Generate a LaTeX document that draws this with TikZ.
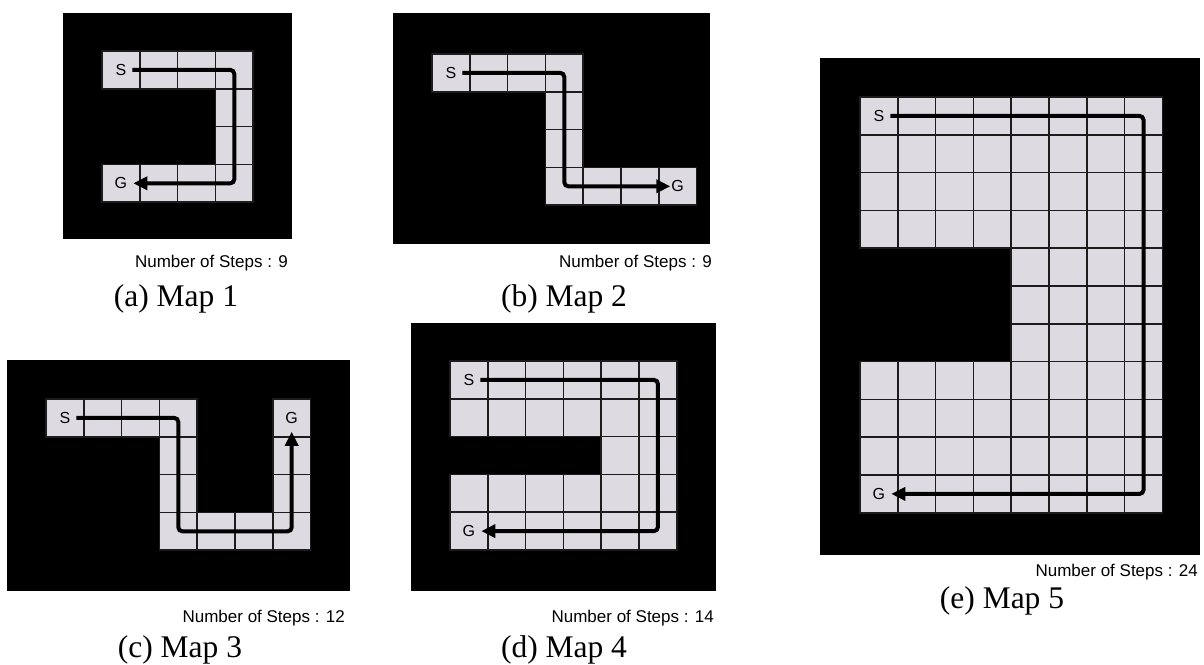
\documentclass[tikz,border=0pt]{standalone}
\usepackage{fontspec}
\setmainfont{Liberation Serif}
\setsansfont{Liberation Sans}
\usetikzlibrary{arrows.meta}
\definecolor{freecell}{RGB}{221,219,225}
\definecolor{gridline}{RGB}{28,28,28}
\newcommand{\cellsz}{37.8}

\begin{document}
\begin{tikzpicture}[x=1pt, y=-1pt,
  every node/.style={inner sep=0pt},
  wall/.style={fill=black},
  cell/.style={fill=freecell, draw=gridline, line width=1.6pt},
  endlbl/.style={font=\sffamily\fontsize{16}{16}\selectfont},
  route/.style={line width=4pt, rounded corners=4pt,
                -{Triangle[length=14pt, width=13pt]}},
  steps/.style={font=\sffamily\fontsize{17}{19}\selectfont, anchor=east},
  caption/.style={font=\rmfamily\fontsize{31.5}{34}\selectfont},
]
\useasboundingbox (0,0) rectangle (1204,664);

%% -- Map 1 -----------------------------------------------------------------
\fill[wall] (63,13) rectangle (292,239);
\begin{scope}[shift={(102,51)}]
  \foreach \r/\a/\b in {0/0/3, 1/3/3, 2/3/3, 3/0/3}
    \foreach \c in {\a,...,\b}
      \draw[cell] ({\c*\cellsz},{\r*\cellsz}) rectangle ++(\cellsz,\cellsz);
  \node[endlbl] (s1) at ({0.5*\cellsz},{0.5*\cellsz}) {S};
  \node[endlbl] (g1) at ({0.5*\cellsz},{3.5*\cellsz}) {G};
  \coordinate (b1a) at ({3.5*\cellsz},{0.5*\cellsz});
  \coordinate (b1b) at ({3.5*\cellsz},{3.5*\cellsz});
\end{scope}
\draw[route] ([xshift=6pt]s1.east) -- (b1a) -- (b1b) -- ([xshift=6pt]g1.east);
\node[steps] (n1) at (288,263) {Number of Steps : 9};
\node[caption] (cap1) at (176,299) {(a) Map 1};

%% -- Map 2 -----------------------------------------------------------------
\fill[wall] (393,13) rectangle (710,244);
\begin{scope}[shift={(432,54)}]
  \foreach \r/\a/\b in {0/0/3, 1/3/3, 2/3/3, 3/3/6}
    \foreach \c in {\a,...,\b}
      \draw[cell] ({\c*\cellsz},{\r*\cellsz}) rectangle ++(\cellsz,\cellsz);
  \node[endlbl] (s2) at ({0.5*\cellsz},{0.5*\cellsz}) {S};
  \node[endlbl] (g2) at ({6.5*\cellsz},{3.5*\cellsz}) {G};
  \coordinate (b2a) at ({3.5*\cellsz},{0.5*\cellsz});
  \coordinate (b2b) at ({3.5*\cellsz},{3.5*\cellsz});
\end{scope}
\draw[route] ([xshift=6pt]s2.east) -- (b2a) -- (b2b) -- ([xshift=-1pt]g2.west);
\node[steps] (n2) at (712,263) {Number of Steps : 9};
\node[caption] (cap2) at (564,299) {(b) Map 2};

%% -- Map 3 -----------------------------------------------------------------
\fill[wall] (7,360) rectangle (350,591);
\begin{scope}[shift={(46,399)}]
  \foreach \r/\a/\b in {0/0/3, 1/3/3, 2/3/3, 3/3/6, 0/6/6, 1/6/6, 2/6/6}
    \foreach \c in {\a,...,\b}
      \draw[cell] ({\c*\cellsz},{\r*\cellsz}) rectangle ++(\cellsz,\cellsz);
  \node[endlbl] (s3) at ({0.5*\cellsz},{0.5*\cellsz}) {S};
  \node[endlbl] (g3) at ({6.5*\cellsz},{0.5*\cellsz}) {G};
  \coordinate (b3a) at ({3.5*\cellsz},{0.5*\cellsz});
  \coordinate (b3b) at ({3.5*\cellsz},{3.5*\cellsz});
  \coordinate (b3c) at ({6.5*\cellsz},{3.5*\cellsz});
\end{scope}
\draw[route] ([xshift=6pt]s3.east) -- (b3a) -- (b3b) -- (b3c) -- ([yshift=-8pt]g3.south);
\node[steps] (n3) at (345,618) {Number of Steps : 12};
\node[caption] (cap3) at (180,650) {(c) Map 3};

%% -- Map 4 -----------------------------------------------------------------
\fill[wall] (411,323) rectangle (716,591);
\begin{scope}[shift={(450,361)}]
  \foreach \r/\a/\b in {0/0/5, 1/0/5, 2/4/5, 3/0/5, 4/0/5}
    \foreach \c in {\a,...,\b}
      \draw[cell] ({\c*\cellsz},{\r*\cellsz}) rectangle ++(\cellsz,\cellsz);
  \node[endlbl] (s4) at ({0.5*\cellsz},{0.5*\cellsz}) {S};
  \node[endlbl] (g4) at ({0.5*\cellsz},{4.5*\cellsz}) {G};
  \coordinate (b4a) at ({5.5*\cellsz},{0.5*\cellsz});
  \coordinate (b4b) at ({5.5*\cellsz},{4.5*\cellsz});
\end{scope}
\draw[route] ([xshift=6pt]s4.east) -- (b4a) -- (b4b) -- ([xshift=6pt]g4.east);
\node[steps] (n4) at (714,618) {Number of Steps : 14};
\node[caption] (cap4) at (564,650) {(d) Map 4};

%% -- Map 5 -----------------------------------------------------------------
\fill[wall] (820,58) rectangle (1200,555);
\begin{scope}[shift={(860,97)}]
  \foreach \r/\a/\b in {0/0/7, 1/0/7, 2/0/7, 3/0/7, 4/4/7, 5/4/7, 6/4/7,
                        7/0/7, 8/0/7, 9/0/7, 10/0/7}
    \foreach \c in {\a,...,\b}
      \draw[cell] ({\c*\cellsz},{\r*\cellsz}) rectangle ++(\cellsz,\cellsz);
  \node[endlbl] (s5) at ({0.5*\cellsz},{0.5*\cellsz}) {S};
  \node[endlbl] (g5) at ({0.5*\cellsz},{10.5*\cellsz}) {G};
  \coordinate (b5a) at ({7.5*\cellsz},{0.5*\cellsz});
  \coordinate (b5b) at ({7.5*\cellsz},{10.5*\cellsz});
\end{scope}
\draw[route] ([xshift=6pt]s5.east) -- (b5a) -- (b5b) -- ([xshift=6pt]g5.east);
\node[steps] (n5) at (1198,572) {Number of Steps : 24};
\node[caption] (cap5) at (1002,601) {(e) Map 5};

\end{tikzpicture}
\end{document}
